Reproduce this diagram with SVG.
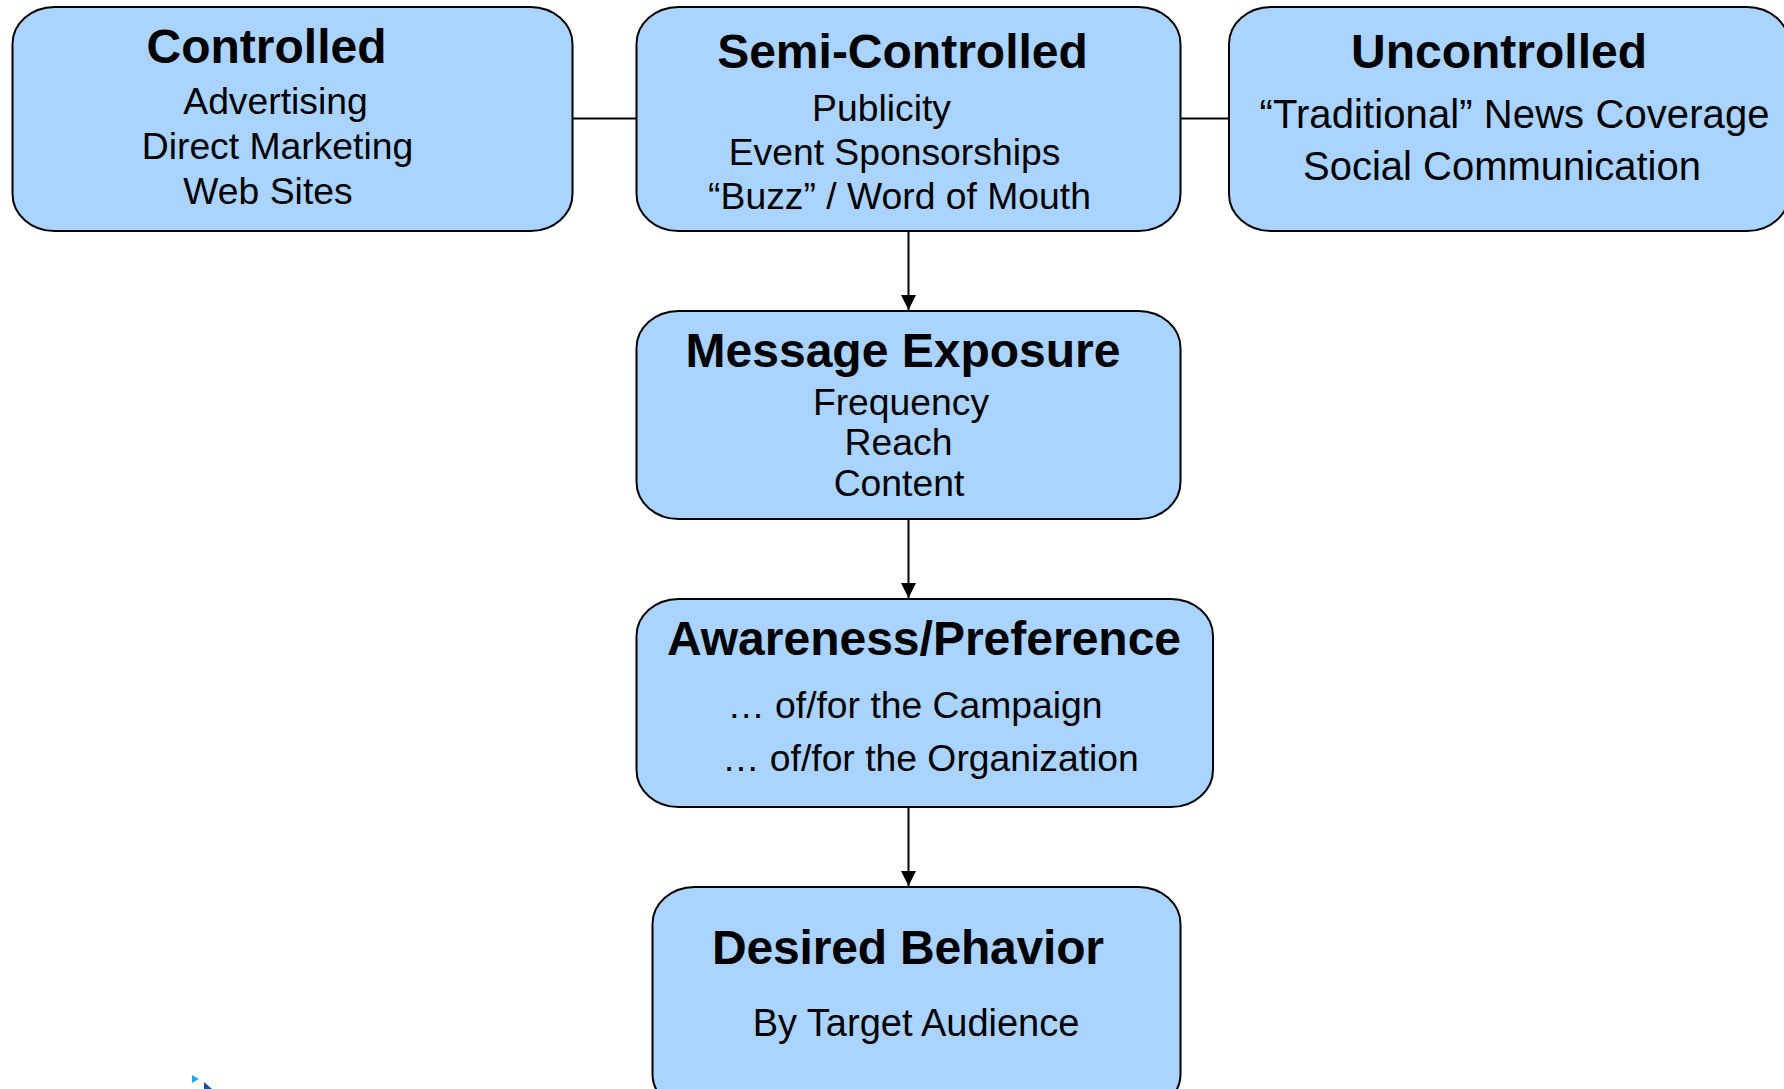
<svg xmlns="http://www.w3.org/2000/svg" width="1784" height="1089" viewBox="0 0 1784 1089">
<style>
.box{fill:#aad4ff;stroke:#000;stroke-width:2}
.c{fill:none;stroke:#000;stroke-width:2}
text{font-family:"Liberation Sans",Arial,sans-serif;fill:#000;text-anchor:middle}
.t{font-size:48px;font-weight:700}
.b{font-size:37.300px}
.u{font-size:40px}
</style>
<defs><marker id="arrow" markerUnits="userSpaceOnUse" markerWidth="16" markerHeight="16" refX="15" refY="8" orient="auto"><path d="M0,0.5L15,8L0,15.500Z" fill="#000"/></marker></defs>
<rect width="1784" height="1089" fill="#fff"/>
<g id="connectors">
<path class="c" d="M572.500,118.500H636.500"/>
<path class="c" d="M1180.500,118.500H1229"/>
<path class="c" d="M908.500,231V310" marker-end="url(#arrow)"/>
<path class="c" d="M908.500,519V598" marker-end="url(#arrow)"/>
<path class="c" d="M908.500,807V886" marker-end="url(#arrow)"/>
</g>
<g id="controlled"><rect class="box" x="12.500" y="7" width="560" height="224" rx="42" ry="37"/>
<text class="t" x="266.500" y="63">Controlled</text><text class="b" x="275.500" y="114">Advertising</text><text class="b" x="277.500" y="159">Direct Marketing</text><text class="b" x="268" y="204">Web Sites</text></g>
<g id="semi-controlled"><rect class="box" x="636.500" y="7" width="544" height="224" rx="42" ry="37"/>
<text class="t" x="902.500" y="68">Semi-Controlled</text><text class="b" x="881.500" y="121">Publicity</text><text class="b" x="894.500" y="165">Event Sponsorships</text><text class="b" x="899.500" y="209">“Buzz” / Word of Mouth</text></g>
<g id="uncontrolled"><rect class="box" x="1229" y="7" width="560" height="224" rx="42" ry="37"/>
<text class="t" x="1499" y="68">Uncontrolled</text><text class="u" x="1514.500" y="128" textLength="510">“Traditional” News Coverage</text><text class="u" x="1502" y="180">Social Communication</text></g>
<g id="message-exposure"><rect class="box" x="636.500" y="311" width="544" height="208" rx="42" ry="37"/>
<text class="t" x="903" y="367">Message Exposure</text><text class="b" x="901" y="415">Frequency</text><text class="b" x="898.500" y="455">Reach</text><text class="b" x="899" y="496">Content</text></g>
<g id="awareness-preference"><rect class="box" x="636.500" y="599" width="576.500" height="208" rx="42" ry="37"/>
<text class="t" x="924" y="655">Awareness/Preference</text><text class="b" x="915" y="718">… of/for the Campaign</text><text class="b" x="930.500" y="771">… of/for the Organization</text></g>
<g id="desired-behavior"><rect class="box" x="652.500" y="887" width="528" height="224" rx="42" ry="37"/>
<text class="t" x="908" y="964" textLength="392">Desired Behavior</text><text class="b" x="916" y="1036" style="font-size:38px">By Target Audience</text></g>
<path d="M192,1075L199,1079L192,1083Z" fill="#1fa8e8"/>
<path d="M204,1082L212,1089H204Z" fill="#1f4e9a"/>
</svg>
